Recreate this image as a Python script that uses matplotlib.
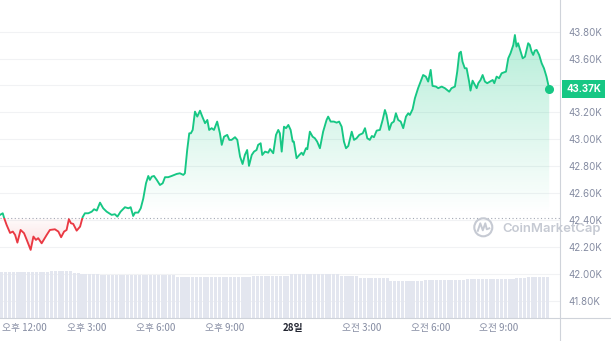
import matplotlib.pyplot as plt
import matplotlib.colors as mcolors
import numpy as np
from matplotlib.lines import Line2D
from matplotlib.patches import Circle, Rectangle
from matplotlib.path import Path
from matplotlib.transforms import ScaledTranslation

# hours relative to 12:00 (PM) on the 27th
hours_from_noon = [
    -0.80, -0.68, -0.62, -0.51, -0.36, -0.24, -0.14, -0.04, 0.10, 0.25,
    0.37, 0.54, 0.66, 0.77, 0.87, 1.02, 1.24, 1.38, 1.60, 1.75,
    1.87, 2.00, 2.11, 2.21, 2.30, 2.40, 2.55, 2.70, 2.81, 2.91,
    3.06, 3.21, 3.31, 3.43, 3.57, 3.71, 3.86, 4.08, 4.22, 4.33,
    4.47, 4.66, 4.81, 4.91, 5.02, 5.10, 5.24, 5.35, 5.46, 5.58,
    5.68, 5.75, 5.83, 5.93, 6.05, 6.19, 6.31, 6.41, 6.55, 6.70,
    6.92, 7.06, 7.21, 7.28, 7.38, 7.47, 7.54, 7.62, 7.72, 7.82,
    7.94, 8.04, 8.16, 8.26, 8.34, 8.45, 8.55, 8.69, 8.81, 8.89,
    8.99, 9.13, 9.22, 9.32, 9.47, 9.57, 9.69, 9.80, 9.90, 10.00,
    10.08, 10.20, 10.30, 10.41, 10.48, 10.59, 10.66, 10.78, 10.92, 11.00,
    11.14, 11.26, 11.36, 11.43, 11.51, 11.61, 11.70, 11.80, 11.90, 11.99,
    12.04, 12.16, 12.28, 12.38, 12.45, 12.57, 12.63, 12.74, 12.86, 12.96,
    13.06, 13.18, 13.32, 13.47, 13.54, 13.65, 13.79, 13.91, 14.02, 14.13,
    14.23, 14.32, 14.42, 14.57, 14.67, 14.78, 14.90, 15.05, 15.15, 15.25,
    15.36, 15.45, 15.54, 15.66, 15.80, 15.92, 16.02, 16.09, 16.21, 16.31,
    16.41, 16.50, 16.60, 16.71, 16.82, 16.94, 17.04, 17.11, 17.23, 17.33,
    17.47, 17.58, 17.69, 17.81, 17.91, 18.02, 18.10, 18.25, 18.35, 18.50,
    18.64, 18.83, 18.93, 19.08, 19.18, 19.27, 19.34, 19.41, 19.51, 19.59,
    19.70, 19.76, 19.85, 19.95, 20.03, 20.10, 20.20, 20.29, 20.39, 20.49,
    20.61, 20.73, 20.80, 20.90, 21.01, 21.12, 21.31, 21.41, 21.51, 21.63,
    21.70, 21.77, 21.84, 21.95, 22.04, 22.14, 22.21, 22.28, 22.35, 22.43,
    22.50, 22.57, 22.65, 22.76, 22.87, 22.97, 23.08, 23.20,
]

price_usd = [
    42439, 42451, 42416, 42364, 42305, 42315, 42290, 42233, 42327, 42303,
    42253, 42179, 42278, 42253, 42266, 42228, 42290, 42327, 42332, 42315,
    42273, 42315, 42327, 42407, 42377, 42372, 42322, 42352, 42422, 42451,
    42451, 42463, 42481, 42471, 42530, 42488, 42463, 42439, 42444, 42426,
    42463, 42496, 42488, 42496, 42431, 42456, 42456, 42488, 42560, 42674,
    42728, 42699, 42723, 42728, 42699, 42661, 42674, 42719, 42719, 42728,
    42743, 42748, 42736, 42748, 42921, 43045, 43045, 43070, 43206, 43169,
    43213, 43169, 43120, 43144, 43070, 43083, 43070, 43132, 43045, 42959,
    43020, 43033, 42996, 42996, 43016, 42996, 42872, 42817, 42884, 42921,
    42803, 42884, 42909, 42921, 42959, 42971, 42884, 42909, 42901, 42928,
    42897, 43033, 43070, 43045, 42909, 43094, 43083, 43107, 43070, 42983,
    42983, 42860, 42884, 42901, 42884, 42934, 42927, 43057, 43020, 43008,
    42983, 42934, 43057, 43144, 43169, 43132, 43132, 43124, 43132, 43094,
    42983, 42934, 42951, 43057, 42996, 43008, 43033, 43045, 43083, 43008,
    42996, 43025, 43016, 43065, 43070, 43144, 43218, 43181, 43070, 43120,
    43132, 43194, 43144, 43132, 43083, 43169, 43194, 43181, 43224, 43305,
    43380, 43429, 43478, 43466, 43429, 43516, 43397, 43392, 43380, 43392,
    43380, 43354, 43380, 43392, 43503, 43640, 43651, 43577, 43528, 43528,
    43429, 43362, 43436, 43404, 43380, 43417, 43441, 43478, 43429, 43417,
    43429, 43441, 43417, 43466, 43454, 43491, 43503, 43602, 43640, 43701,
    43775, 43689, 43714, 43651, 43602, 43614, 43664, 43714, 43701, 43651,
    43627, 43659, 43664, 43627, 43565, 43528, 43466, 43374,
]

open_price = 42415

# 24h volume, one bar per 10 minutes (billions USD)
volume_bn = [
    23.0, 23.0, 23.0, 23.0, 23.0, 23.0, 23.0, 23.0, 23.0, 23.0, 23.0, 23.0,
    23.0, 23.6, 23.6, 23.6, 23.6, 23.6, 23.6, 22.8, 22.8, 22.3, 22.3, 22.3,
    22.3, 22.3, 21.8, 21.8, 21.8, 21.8, 21.8, 21.8, 21.8, 21.8, 21.8, 21.8,
    21.8, 21.8, 21.8, 21.8, 21.8, 21.8, 21.8, 21.8, 21.8, 21.8, 20.6, 20.6,
    20.6, 20.6, 20.6, 20.6, 20.6, 20.8, 20.8, 20.8, 20.8, 20.8, 20.8, 20.8,
    20.8, 20.8, 20.8, 20.8, 20.8, 20.8, 21.3, 21.3, 21.3, 21.3, 21.3, 21.3,
    21.3, 21.3, 21.3, 21.3, 22.0, 22.0, 22.0, 22.0, 22.0, 22.0, 22.0, 22.0,
    22.0, 22.0, 22.0, 22.0, 22.0, 21.2, 21.2, 21.2, 21.2, 21.2, 20.0, 20.0,
    20.0, 20.0, 20.0, 20.0, 20.0, 20.0, 18.8, 18.8, 18.8, 18.8, 18.8, 18.8,
    18.8, 18.8, 18.8, 19.2, 19.2, 19.2, 19.2, 19.2, 19.2, 19.2, 19.2, 19.2,
    19.2, 19.2, 19.7, 19.7, 19.7, 19.7, 19.7, 19.7, 19.7, 19.7, 19.7, 19.7,
    19.7, 19.7, 19.7, 20.3, 20.3, 20.3, 20.7, 20.7, 20.7, 20.7, 20.7, 20.7,
]

tick_hours = [0, 3, 6, 9, 12, 15, 18, 21]
tick_labels = ['오후 12:00', '오후 3:00', '오후 6:00', '오후 9:00',
               '28일', '오전 3:00', '오전 6:00', '오전 9:00']
price_ticks = [41800, 42000, 42200, 42400, 42600, 42800,
               43000, 43200, 43400, 43600, 43800]

GREEN = '#16c784'
RED = '#ea3943'
GREY = '#858ca2'

t = np.array(hours_from_noon)
p = np.array(price_usd)
x0, x1 = -0.80, 23.67

fig = plt.figure(figsize=(6.11, 3.41), dpi=100)
ax = fig.add_axes([0, 0.0666, 0.9165, 0.9334])
vol = ax.twinx()

# volume bars (own hidden scale)
bar_t = t[0] + (np.arange(len(volume_bn)) + 0.5) / 6
vol.bar(bar_t, volume_bn, width=0.8 / 6, color='#e3e6ef', linewidth=0)
vol.set_ylim(0, 159)
vol.set_yticks([])
for s in vol.spines.values():
    s.set_visible(False)


def gradient_fill(poly, color, a_bottom, a_top, y_bottom, y_top):
    rgba = np.zeros((256, 1, 4))
    rgba[..., :3] = mcolors.to_rgb(color)
    rgba[:, 0, 3] = np.linspace(a_bottom, a_top, 256)
    im = ax.imshow(rgba, extent=[x0, x1, y_bottom, y_top], origin='lower',
                   aspect='auto', zorder=1, interpolation='bilinear')
    im.set_clip_path(Path.make_compound_path(*poly.get_paths()), ax.transData)


up = ax.fill_between(t, p, open_price, where=p >= open_price, interpolate=True,
                     facecolor='none', edgecolor='none')
dn = ax.fill_between(t, p, open_price, where=p <= open_price, interpolate=True,
                     facecolor='none', edgecolor='none')
gradient_fill(up, GREEN, 0.0, 0.32, open_price + 30, 43800)
gradient_fill(dn, RED, 0.18, 0.02, 42170, open_price)

above = Rectangle((x0, open_price), x1 - x0, 5000, transform=ax.transData)
below = Rectangle((x0, open_price - 5000), x1 - x0, 5000, transform=ax.transData)
g_line, = ax.plot(t, p, color=GREEN, lw=1.35, zorder=3, solid_joinstyle='round')
g_line.set_clip_path(above)
r_line, = ax.plot(t, p, color=RED, lw=1.35, zorder=3, solid_joinstyle='round')
r_line.set_clip_path(below)

ax.axhline(open_price, color='#a3a8b4', lw=0.8, ls=(0, (1, 2.2)), zorder=2)
ax.plot(t[-1], p[-1], 'o', ms=5.5, color=GREEN, zorder=4, clip_on=False)

ax.annotate(f'{p[-1] / 1000:.2f}K', xy=(1.0, p[-1]), xycoords=('axes fraction', 'data'),
            xytext=(4.5, 0), textcoords='offset points', ha='left', va='center',
            color='white', fontsize=7, fontweight='bold', family='Inter',
            bbox=dict(boxstyle='square,pad=0.4', fc=GREEN, ec='none'), zorder=6)

# axes
ax.set_xlim(x0, x1)
ax.set_ylim(41671, 44035)
for s in ax.spines.values():
    s.set_visible(False)

ax.yaxis.tick_right()
ax.set_yticks(price_ticks,
              ['' if v == 43400 else f'{v / 1000:.2f}K' for v in price_ticks])
ax.tick_params(axis='y', length=0, pad=5.8, labelsize=7, labelcolor=GREY)
for lbl in ax.get_yticklabels():
    lbl.set_family('Inter')
ax.grid(axis='y', color='#f1f2f4', lw=0.8)
ax.set_axisbelow(True)

ax.set_xticks(tick_hours, tick_labels)
ax.tick_params(axis='x', length=0, pad=3.5, labelsize=7, labelcolor=GREY)
for lbl in ax.get_xticklabels():
    lbl.set_family('Noto Sans CJK KR')
    if lbl.get_text() == '28일':
        lbl.set_fontweight('bold')
        lbl.set_color('#222531')
first = ax.get_xticklabels()[0]
first.set_transform(first.get_transform() + ScaledTranslation(0.06, 0, fig.dpi_scale_trans))

# crosshair-style frame lines
fig.add_artist(Line2D([0, 1], [0.0666, 0.0666], transform=fig.transFigure, color='#cfd3da', lw=0.8))
fig.add_artist(Line2D([0.9165, 0.9165], [0, 1], transform=fig.transFigure, color='#cfd3da', lw=0.8))

# watermark
wm = '#c6cad3'
fig.add_artist(Circle((4.833, 1.137), 0.09, transform=fig.dpi_scale_trans,
                      fill=False, ec=wm, lw=1.5))
fig.add_artist(Line2D([4.778, 4.803, 4.828, 4.853, 4.868, 4.893],
                      [1.102, 1.177, 1.107, 1.177, 1.117, 1.127],
                      transform=fig.dpi_scale_trans, color=wm, lw=1.4))
fig.text(502.7 / 611, 112 / 341, 'CoinMarketCap', color=wm, fontsize=9.4,
         family='Inter', fontweight='semibold', va='center', ha='left', zorder=10)

fig.savefig('out.png', dpi=100)
